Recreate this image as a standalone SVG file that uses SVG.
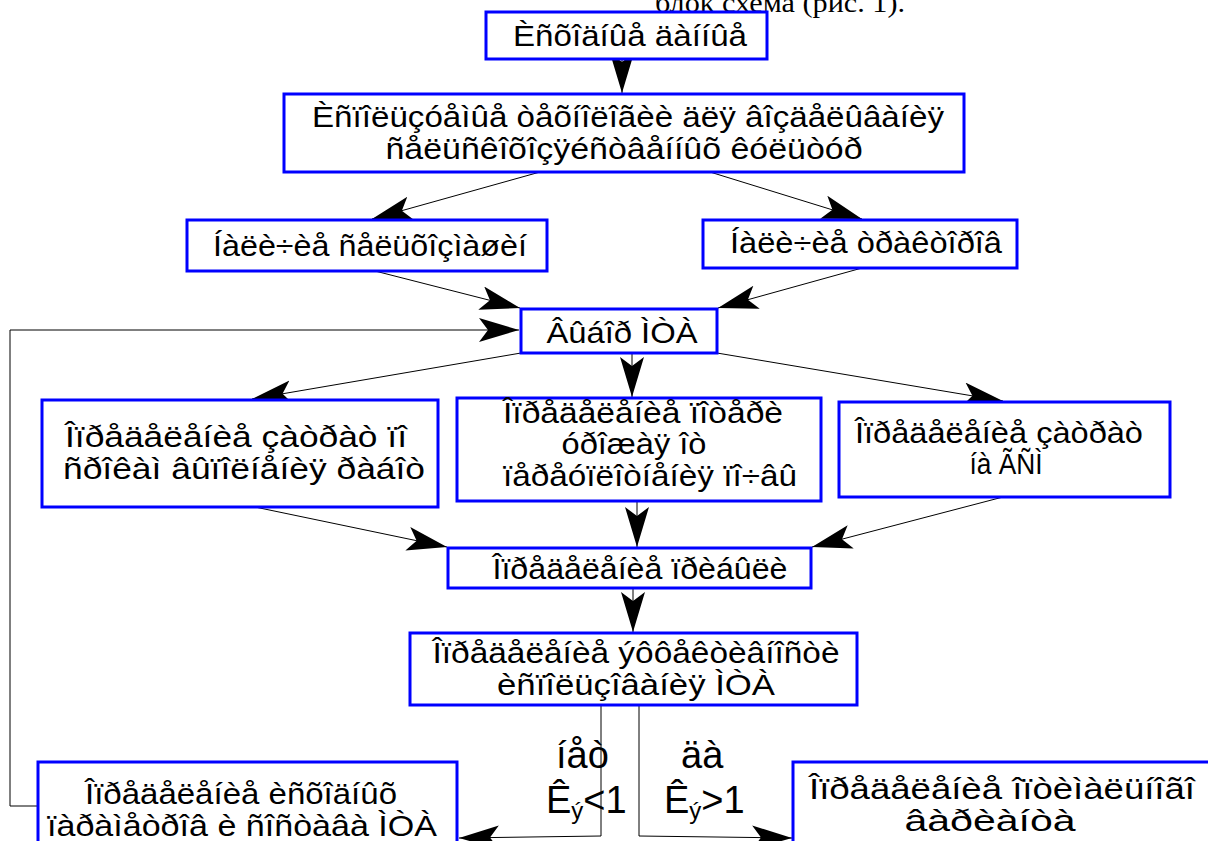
<svg xmlns="http://www.w3.org/2000/svg" width="1208" height="841" viewBox="0 0 1208 841">
<style>
.box{fill:#fff;stroke:#0000ff;stroke-width:3}
.t{font-family:"Liberation Sans",Arial,sans-serif;font-size:29px;fill:#000;text-anchor:middle}
.lb{font-family:"Liberation Sans",Arial,sans-serif;font-size:38px;fill:#000}
.c{fill:none;stroke:#000;stroke-width:1}
</style>
<defs>
<marker id="ah" markerUnits="userSpaceOnUse" markerWidth="44" markerHeight="26" refX="40" refY="12" orient="auto">
<path d="M0,0 L40,12 L0,24 L9,12 Z" fill="#000"/>
</marker>
</defs>
<rect width="1208" height="841" fill="#fff"/>
<text x="655" y="12" font-family="Liberation Serif, serif" font-size="27" textLength="250" lengthAdjust="spacingAndGlyphs">блок схема (рис. 1).</text>
<g id="connectors">
<line class="c" x1="622" y1="59" x2="622" y2="93" marker-end="url(#ah)"/>
<line class="c" x1="540" y1="172" x2="372" y2="219" marker-end="url(#ah)"/>
<line class="c" x1="710" y1="172" x2="862" y2="219" marker-end="url(#ah)"/>
<line class="c" x1="375" y1="271" x2="520" y2="308" marker-end="url(#ah)"/>
<line class="c" x1="862" y1="268" x2="718" y2="308" marker-end="url(#ah)"/>
<polyline class="c" points="38,806 10,806 10,330 519,330" marker-end="url(#ah)"/>
<line class="c" x1="521" y1="353" x2="252" y2="399" marker-end="url(#ah)"/>
<line class="c" x1="632" y1="353" x2="632" y2="397" marker-end="url(#ah)"/>
<line class="c" x1="717" y1="353" x2="1003" y2="401" marker-end="url(#ah)"/>
<line class="c" x1="255" y1="507" x2="447" y2="547" marker-end="url(#ah)"/>
<line class="c" x1="637" y1="501" x2="637" y2="547" marker-end="url(#ah)"/>
<line class="c" x1="1003" y1="497" x2="812" y2="547" marker-end="url(#ah)"/>
<line class="c" x1="633" y1="588" x2="633" y2="632" marker-end="url(#ah)"/>
<polyline class="c" points="601,705 601,836 459,838" marker-end="url(#ah)"/>
<polyline class="c" points="639,705 639,836 792,838" marker-end="url(#ah)"/>
</g>
<g id="n1"><rect class="box" x="486" y="12" width="281" height="47"/><text class="t" x="630" y="46" textLength="234" lengthAdjust="spacingAndGlyphs">Èñõîäíûå äàííûå</text></g>
<g id="n2"><rect class="box" x="284" y="94" width="680" height="78"/><text class="t" x="628" y="127" textLength="632" lengthAdjust="spacingAndGlyphs">Èñïîëüçóåìûå òåõíîëîãèè äëÿ âîçäåëûâàíèÿ</text><text class="t" x="624" y="159" textLength="477" lengthAdjust="spacingAndGlyphs">ñåëüñêîõîçÿéñòâåííûõ êóëüòóð</text></g>
<g id="n3"><rect class="box" x="187" y="220" width="360" height="51"/><text class="t" x="370" y="256" textLength="314" lengthAdjust="spacingAndGlyphs">Íàëè÷èå ñåëüõîçìàøèí</text></g>
<g id="n4"><rect class="box" x="703" y="220" width="314" height="48"/><text class="t" x="866" y="253" textLength="272" lengthAdjust="spacingAndGlyphs">Íàëè÷èå òðàêòîðîâ</text></g>
<g id="n5"><rect class="box" x="521" y="309" width="196" height="44"/><text class="t" x="622" y="343" textLength="151" lengthAdjust="spacingAndGlyphs">Âûáîð ÌÒÀ</text></g>
<g id="n6"><rect class="box" x="42" y="400" width="396" height="107"/><text class="t" x="236" y="447" textLength="342" lengthAdjust="spacingAndGlyphs">Îïðåäåëåíèå çàòðàò ïî</text><text class="t" x="244" y="479" textLength="362" lengthAdjust="spacingAndGlyphs">ñðîêàì âûïîëíåíèÿ ðàáîò</text></g>
<g id="n7"><rect class="box" x="457" y="398" width="364" height="103"/><text class="t" x="643" y="423" textLength="280" lengthAdjust="spacingAndGlyphs">Îïðåäåëåíèå ïîòåðè</text><text class="t" x="634" y="454" textLength="145" lengthAdjust="spacingAndGlyphs">óðîæàÿ îò</text><text class="t" x="650" y="486" textLength="294" lengthAdjust="spacingAndGlyphs">ïåðåóïëîòíåíèÿ ïî÷âû</text></g>
<g id="n8"><rect class="box" x="839" y="402" width="331" height="95"/><text class="t" x="999" y="443" textLength="288" lengthAdjust="spacingAndGlyphs">Îïðåäåëåíèå çàòðàò</text><text class="t" x="1006" y="474" textLength="73" lengthAdjust="spacingAndGlyphs">íà ÃÑÌ</text></g>
<g id="n9"><rect class="box" x="448" y="548" width="363" height="40"/><text class="t" x="640" y="579" textLength="295" lengthAdjust="spacingAndGlyphs">Îïðåäåëåíèå ïðèáûëè</text></g>
<g id="n10"><rect class="box" x="410" y="633" width="447" height="72"/><text class="t" x="636" y="663" textLength="407" lengthAdjust="spacingAndGlyphs">Îïðåäåëåíèå ýôôåêòèâíîñòè</text><text class="t" x="636" y="695" textLength="278" lengthAdjust="spacingAndGlyphs">èñïîëüçîâàíèÿ ÌÒÀ</text></g>
<g id="n11"><rect class="box" x="38" y="762" width="419" height="90"/><text class="t" x="241" y="804" textLength="312" lengthAdjust="spacingAndGlyphs">Îïðåäåëåíèå èñõîäíûõ</text><text class="t" x="242" y="836" textLength="390" lengthAdjust="spacingAndGlyphs">ïàðàìåòðîâ è ñîñòàâà ÌÒÀ</text></g>
<g id="n12"><rect class="box" x="793" y="762" width="440" height="90"/><text class="t" x="1002" y="799" textLength="386" lengthAdjust="spacingAndGlyphs">Îïðåäåëåíèå îïòèìàëüíîãî</text><text class="t" x="990" y="831" textLength="171" lengthAdjust="spacingAndGlyphs">âàðèàíòà</text></g>
<g id="labels">
<text class="lb" x="556" y="768">íåò</text>
<text class="lb" x="546" y="813">Ê<tspan font-size="24" dy="6">ý</tspan><tspan dy="-6">&lt;1</tspan></text>
<text class="lb" x="681" y="768">äà</text>
<text class="lb" x="664" y="813">Ê<tspan font-size="24" dy="6">ý</tspan><tspan dy="-6">&gt;1</tspan></text>
</g>
</svg>
